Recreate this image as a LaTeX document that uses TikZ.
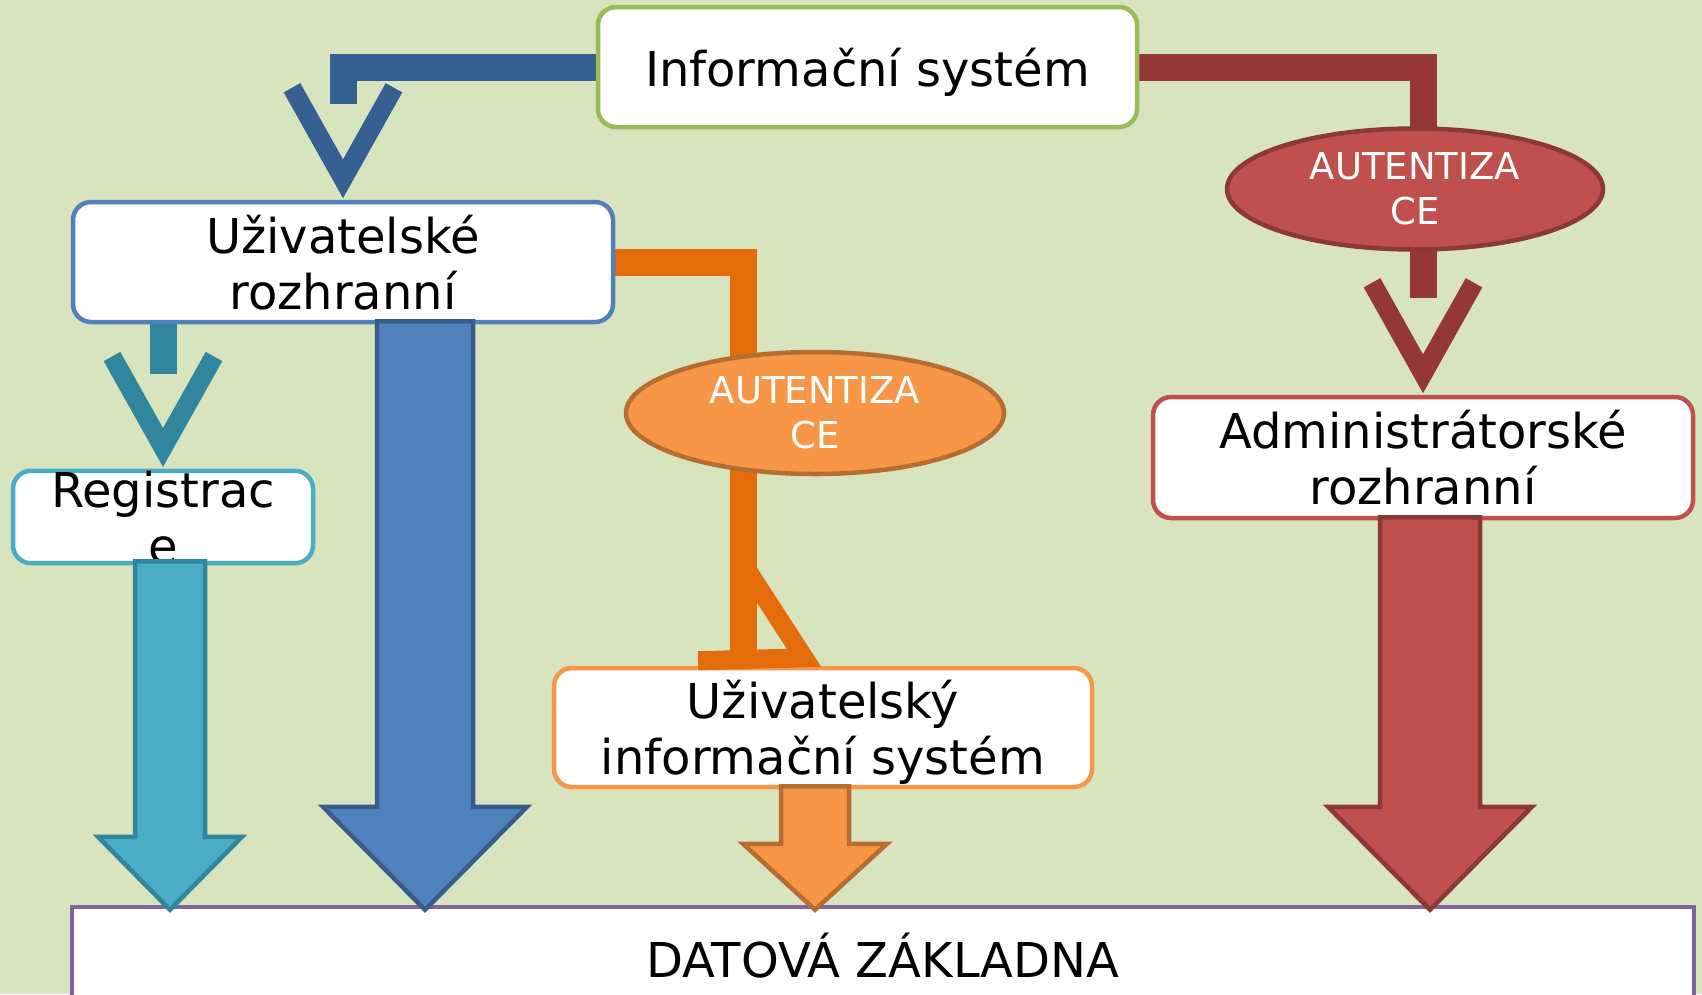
\documentclass[tikz,border=0pt]{standalone}
\usepackage{fontspec}
\setmainfont{DejaVu Sans}
\usetikzlibrary{shapes.geometric,calc}

\definecolor{bgolive}{HTML}{D7E4BD}
\definecolor{isgreen}{HTML}{9BBB59}
\definecolor{uzblue}{HTML}{4F81BD}
\definecolor{regteal}{HTML}{4BACC6}
\definecolor{admred}{HTML}{C0504D}
\definecolor{uisorange}{HTML}{F79646}
\definecolor{dbpurple}{HTML}{8064A2}
\definecolor{cblue}{HTML}{376092}
\definecolor{cteal}{HTML}{31859C}
\definecolor{cred}{HTML}{953735}
\definecolor{corange}{HTML}{E46C0A}
\definecolor{blueedge}{HTML}{385D8A}
\definecolor{rededge}{HTML}{8C3836}
\definecolor{orangeedge}{HTML}{B66D31}

\pgfdeclarelayer{background}
\pgfsetlayers{background,main}

% open V head, tip sitting on a node anchor
\newcommand{\openhead}[2]{\draw[vhead,#1] ($(#2)+(-51,-112)$) -- ($(#2)+(0,-21)$) -- ($(#2)+(51,-112)$);}
% big block arrow: style, from, to, shaft half width, head half width, head length
\newcommand{\blockarrow}[6]{%
  \draw[#1] let \p1=(#2), \p2=(#3) in
    (\x1-#4,\y1) -- (\x1-#4,\y2+#6) -- (\x1-#5,\y2+#6) -- (\x1,\y2)
    -- (\x1+#5,\y2+#6) -- (\x1+#4,\y2+#6) -- (\x1+#4,\y1) -- cycle;}

\begin{document}
\begin{tikzpicture}[x=1pt, y=-1pt,
    box/.style={draw, rectangle, rounded corners=18, fill=white, line width=4.5, inner sep=0, text depth=0pt, align=center, font=\fontsize{48}{56}\selectfont},
    oval/.style={draw, ellipse, line width=4.5, inner sep=0, align=center, text=white, font=\fontsize{37}{45}\selectfont},
    conn/.style={line width=27},
    vhead/.style={line width=19},
    blk/.style={line width=4.5, line join=miter}]

    \begin{pgfonlayer}{background}
        \fill[bgolive] (0,0) rectangle (1702,994);
    \end{pgfonlayer}
    \useasboundingbox (0,0) rectangle (1702,994);

    \node (infosys) [box, draw=isgreen, minimum width=539, minimum height=120] at (867.5,67) {Informační systém};
    \node (uziv) [box, draw=uzblue, minimum width=540, minimum height=120] at (343,262) {Uživatelské\\rozhranní};
    \node (reg) [box, draw=regteal, minimum width=300, minimum height=92] at (163,517) {Registrac\\e};
    \node (autr) [oval, fill=admred, draw=rededge, minimum width=376, minimum height=121] at (1415,189) {AUTENTIZA\\CE};
    \node (auto) [oval, fill=uisorange, draw=orangeedge, minimum width=378, minimum height=122] at (815,413) {AUTENTIZA\\CE};
    \node (admin) [box, draw=admred, minimum width=540, minimum height=121] at (1423,457.5) {Administrátorské\\rozhranní};
    \node (uis) [box, draw=uisorange, minimum width=538, minimum height=119] at (823,727.5) {Uživatelský\\informační systém};
    \node (db) [box, sharp corners, draw=dbpurple, minimum width=1622, minimum height=96] at (883,955) {DATOVÁ ZÁKLADNA};

    \begin{pgfonlayer}{background}
        \draw[conn, cblue] (infosys.west) -| ($(uziv.north)+(0,-96)$);
        \draw[conn, cteal] (uziv.south -| reg.north) -- ($(reg.north)+(0,-95)$);
        \draw[conn, cred] (infosys.east) -| (autr.center -| admin.north);
        \draw[conn, cred] (autr.center -| admin.north) -- ($(admin.north)+(0,-97)$);
        \draw[conn, corange] (uziv.east) -| ($(auto.center)+(-72,0)$);
        \draw[conn, corange] ($(auto.center)+(-72,0)$) -- ($(uis.north)+(-80,-15)$);
    \end{pgfonlayer}

    \openhead{cblue}{uziv.north}
    \openhead{cteal}{reg.north}
    \openhead{cred}{admin.north}
    \draw[vhead, corange] ($(uis.north)+(-78,-99)$) -- ($(uis.north)+(-19,-8)$) -- ($(uis.north)+(-125,-5)$);

    \blockarrow{blk, fill=regteal, draw=cteal}{$(reg.south)+(7,-4)$}{$(db.north)+(0,5)$}{35pt}{72pt}{73pt}
    \blockarrow{blk, fill=uzblue, draw=blueedge}{$(uziv.south)+(82,-3)$}{$(db.north)+(0,5)$}{48pt}{102pt}{103pt}
    \blockarrow{blk, fill=uisorange, draw=orangeedge}{$(uis.south)+(-8,-3)$}{$(db.north)+(0,5)$}{34pt}{72pt}{66pt}
    \blockarrow{blk, fill=admred, draw=rededge}{$(admin.south)+(7,-3)$}{$(db.north)+(0,5)$}{50pt}{102pt}{103pt}
\end{tikzpicture}
\end{document}
